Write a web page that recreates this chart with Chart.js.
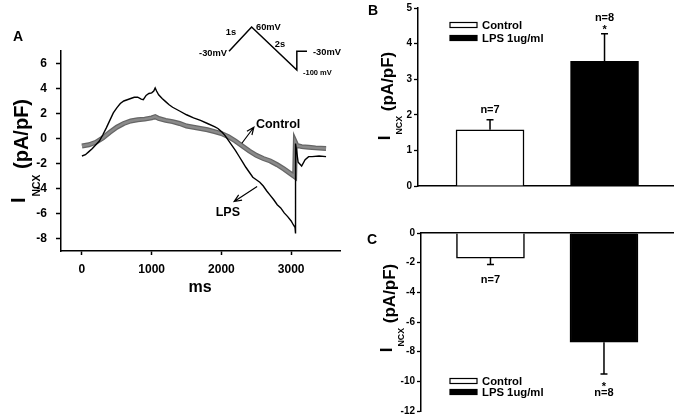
<!DOCTYPE html>
<html>
<head>
<meta charset="utf-8">
<script src="https://cdn.jsdelivr.net/npm/chart.js@4.4.0/dist/chart.umd.min.js"></script>
<style>
  html, body { margin: 0; padding: 0; background: #fff; overflow: hidden; }
  #wrap { position: relative; width: 675px; height: 419px; }
  canvas { position: absolute; left: 0; top: 0; }
</style>
</head>
<body>
<div id="wrap">
  <canvas id="chart-a" width="675" height="419"></canvas>
  <canvas id="chart-inset" width="675" height="419"></canvas>
  <canvas id="chart-b" width="675" height="419"></canvas>
  <canvas id="chart-c" width="675" height="419"></canvas>
</div>
<script>
// ---------- data ----------
// panel A: NCX current traces (ms, pA/pF)
const tCtl = [0, 100, 200, 300, 400, 500, 600, 700, 800, 900, 1000, 1050, 1100, 1200, 1300, 1400, 1500,
  1600, 1700, 1800, 1900, 2000, 2100, 2200, 2300, 2400, 2500, 2600, 2700, 2800, 2900, 3000, 3050,
  3060, 3080, 3150, 3250, 3350, 3500];
const vCtl = [-0.6, -0.5, -0.3, 0.05, 0.5, 0.9, 1.2, 1.4, 1.5, 1.55, 1.65, 1.75, 1.6, 1.45, 1.35, 1.2, 1.0,
  0.9, 0.8, 0.7, 0.55, 0.4, 0.15, -0.2, -0.6, -1.0, -1.35, -1.6, -1.8, -2.1, -2.45, -2.85, -3.05,
  -0.3, -0.55, -0.65, -0.7, -0.75, -0.8];
const tLps = [0, 50, 100, 150, 200, 250, 300, 350, 400, 450, 500, 550, 600, 650, 700, 750, 800, 850, 880, 920,
  960, 1000, 1030, 1050, 1070, 1100, 1150, 1200, 1250, 1300, 1400, 1500, 1600, 1700, 1800, 1900, 1950, 2000,
  2050, 2100, 2150, 2200, 2250, 2300, 2350, 2400, 2450, 2500, 2550, 2600, 2650, 2700, 2750, 2800, 2850,
  2900, 2950, 3000, 3030, 3055, 3060, 3065, 3100, 3150, 3200, 3250, 3300, 3400, 3500];
const vLps = [-1.4, -1.3, -1.05, -0.8, -0.5, -0.2, 0.3, 0.85, 1.45, 2.05, 2.45, 2.8, 3.0, 3.1, 3.2, 3.3, 3.3, 3.15, 3.1, 3.45,
  3.6, 3.65, 3.8, 4.05, 3.8, 3.5, 3.2, 2.95, 2.7, 2.5, 2.2, 1.9, 1.65, 1.45, 1.2, 0.95, 0.8, 0.55,
  0.25, -0.15, -0.55, -0.95, -1.4, -1.85, -2.3, -2.7, -3.1, -3.3, -3.5, -3.8, -4.2, -4.55, -4.9, -5.3, -5.55,
  -5.95, -6.25, -6.6, -6.9, -7.1, -7.6, -0.4, -1.9, -2.2, -1.7, -1.45, -1.45, -1.4, -1.45];
const xTicksA = [0, 1000, 2000, 3000];
const yTicksA = [-8, -6, -4, -2, 0, 2, 4, 6];

// voltage protocol inset (ms, mV)
const tProto = [0, 1000, 3000, 3000, 3450];
const vProto = [-30, 60, -100, -30, -30];

// panels B and C: mean and SEM
const groups = ["Control", "LPS 1ug/ml"];
const meanB = [1.58, 3.5];
const errB = [0.28, 0.78];
const meanC = [-1.69, -7.36];
const errC = [0.44, 2.15];
const nCells = [7, 8];
const stars = ["", "*"];
const yTicksB = [0, 1, 2, 3, 4, 5];
const yTicksC = [0, -2, -4, -6, -8, -10, -12];

// ---------- helpers ----------
const FAM = "'Liberation Sans', Arial, sans-serif";
const bold = (s) => `bold ${s}px ${FAM}`;
const pts = (xs, ys) => xs.map((x, i) => ({ x, y: ys[i] }));
const fixTicks = (arr) => (s) => { s.ticks = arr.map((value) => ({ value })); };
const plain = (v) => String(v);

function text(ctx, txt, x, yc, size, align = "center") {
  ctx.font = bold(size);
  ctx.textAlign = align;
  ctx.textBaseline = "alphabetic";
  ctx.fillStyle = "#000";
  ctx.fillText(txt, x, yc + (txt === "*" ? 0.6 : 0.36) * size);
}

// rotated "I_NCX (pA/pF)" title
function yTitle(ctx, xBase, yc, size, subDrop) {
  ctx.save();
  ctx.translate(xBase, yc);
  ctx.rotate(-Math.PI / 2);
  ctx.fillStyle = "#000";
  ctx.textAlign = "left";
  ctx.textBaseline = "alphabetic";
  const subSize = size * 0.52;
  ctx.font = bold(size); const wI = ctx.measureText("I").width;
  const wRest = ctx.measureText(" (pA/pF)").width;
  ctx.font = bold(subSize); const wSub = ctx.measureText("NCX").width;
  let x = -(wI + wSub + wRest + 1) / 2;
  ctx.font = bold(size); ctx.fillText("I", x, -3); x += wI + 1;
  ctx.font = bold(subSize); ctx.fillText("NCX", x, subDrop); x += wSub;
  ctx.font = bold(size); ctx.fillText(" (pA/pF)", x, 0);
  ctx.restore();
}

function arrow(ctx, x0, y0, x1, y1) {
  const a = Math.atan2(y1 - y0, x1 - x0);
  ctx.beginPath();
  ctx.moveTo(x0, y0); ctx.lineTo(x1, y1);
  ctx.moveTo(x1 - 8 * Math.cos(a - 0.4), y1 - 8 * Math.sin(a - 0.4));
  ctx.lineTo(x1, y1);
  ctx.lineTo(x1 - 8 * Math.cos(a + 0.4), y1 - 8 * Math.sin(a + 0.4));
  ctx.stroke();
}

const base = {
  responsive: false,
  animation: false,
  devicePixelRatio: 1,
  events: [],
};

// ---------- panel A ----------
const tracesDeco = {
  id: "tracesDeco",
  afterDraw(chart) {
    const { ctx, scales: { x, y } } = chart;
    ctx.save();
    ctx.strokeStyle = "#000";
    ctx.lineWidth = 1.2;
    arrow(ctx, x.getPixelForValue(2293), y.getPixelForValue(-0.38), x.getPixelForValue(2465), y.getPixelForValue(0.9));
    arrow(ctx, x.getPixelForValue(2512), y.getPixelForValue(-3.84), x.getPixelForValue(2183), y.getPixelForValue(-5.04));
    text(ctx, "Control", x.getPixelForValue(2494), y.getPixelForValue(1.22), 12.5, "left");
    text(ctx, "LPS", x.getPixelForValue(2092), y.getPixelForValue(-5.82), 12.5);
    text(ctx, "ms", 200, 286, 16);
    text(ctx, "A", 13, 36, 14, "left");
    yTitle(ctx, 28, 151, 20, 11.5);
    ctx.restore();
  },
};

new Chart(document.getElementById("chart-a"), {
  type: "line",
  data: {
    datasets: [
      { data: pts(tLps, vLps), borderColor: "#000", borderWidth: 1.4 },
      { data: pts(tCtl, vCtl), borderColor: "#8a8a8a", borderWidth: 2.5 },
      { data: pts(tCtl, vCtl), borderColor: "#666", borderWidth: 5 },
    ],
  },
  options: {
    ...base,
    layout: { padding: { left: 0, right: 335, top: 51, bottom: 0 } },
    elements: { point: { radius: 0 }, line: { tension: 0 } },
    plugins: { legend: { display: false }, tooltip: { enabled: false } },
    scales: {
      x: {
        type: "linear", min: -300, max: 3700,
        afterBuildTicks: fixTicks(xTicksA),
        afterFit: (s) => { s.height = 168; },
        grid: { drawOnChartArea: false, tickLength: 4, tickColor: "#000", tickWidth: 1.5 },
        border: { color: "#000", width: 1.5 },
        ticks: { color: "#000", font: { family: FAM, size: 12, weight: "bold" }, padding: 7, maxRotation: 0, callback: plain },
      },
      y: {
        min: -9, max: 7,
        afterBuildTicks: fixTicks(yTicksA),
        afterFit: (s) => { s.width = 61; },
        grid: { drawOnChartArea: false, tickLength: 5, tickColor: "#000", tickWidth: 1.5 },
        border: { color: "#000", width: 1.5 },
        ticks: { color: "#000", font: { family: FAM, size: 12, weight: "bold" }, padding: 9, callback: plain },
      },
    },
  },
  plugins: [tracesDeco],
});

// ---------- protocol inset ----------
const insetLabels = {
  id: "insetLabels",
  afterDraw(chart) {
    const { ctx } = chart;
    text(ctx, "-30mV", 227, 52.5, 9.3, "right");
    text(ctx, "1s", 231, 31.5, 9.3);
    text(ctx, "60mV", 256, 27, 9.3, "left");
    text(ctx, "2s", 280, 43.5, 9.3);
    text(ctx, "-30mV", 313, 52, 9.3, "left");
    text(ctx, "-100 mV", 303, 72, 7.5, "left");
  },
};

new Chart(document.getElementById("chart-inset"), {
  type: "line",
  data: { datasets: [{ data: pts(tProto, vProto), borderColor: "#000", borderWidth: 1.5, clip: false }] },
  options: {
    ...base,
    layout: { padding: { left: 229, right: 368, top: 27, bottom: 349 } },
    elements: { point: { radius: 0 }, line: { tension: 0 } },
    plugins: { legend: { display: false }, tooltip: { enabled: false } },
    scales: {
      x: { type: "linear", display: false, min: 0, max: 3450 },
      y: { display: false, min: -100, max: 60 },
    },
  },
  plugins: [insetLabels],
});

// ---------- panels B and C ----------
const barDeco = {
  id: "barDeco",
  afterDatasetsDraw(chart, args, o) {
    const { ctx, scales: { x, y } } = chart;
    ctx.save();
    ctx.strokeStyle = "#000";
    ctx.lineWidth = 1.5;
    o.mean.forEach((m, i) => {
      const px = x.getPixelForValue(i + 1);
      const y0 = y.getPixelForValue(m);
      const y1 = y.getPixelForValue(m + Math.sign(m) * o.err[i]);
      ctx.beginPath();
      ctx.moveTo(px, y0); ctx.lineTo(px, y1);
      ctx.moveTo(px - 3.5, y1); ctx.lineTo(px + 3.5, y1);
      ctx.stroke();
      const dir = m > 0 ? -1 : 1;
      if (stars[i]) {
        text(ctx, stars[i], px, y1 + dir * (m > 0 ? 7 : 9), 11);
        text(ctx, "n=" + nCells[i], px, y1 + dir * (m > 0 ? 17 : 18), 11);
      } else {
        text(ctx, "n=" + nCells[i], px, y1 + dir * (m > 0 ? 11 : 14), 11);
      }
    });
    // legend
    ctx.lineWidth = 1.2;
    groups.forEach((g, i) => {
      const yc = o.legendY[i];
      ctx.fillStyle = i === 0 ? "#fff" : "#000";
      ctx.fillRect(450, yc - 2.5, 27, 5);
      ctx.strokeRect(450, yc - 2.5, 27, 5);
      text(ctx, g, 482, yc, 11.3, "left");
    });
    text(ctx, o.letter, o.letterX, o.letterY, 14, "left");
    yTitle(ctx, o.titleX, o.titleY, 17, 9);
    ctx.restore();
  },
};

function barChart(id, mean, err, yMin, yMax, yTicks, xMin, xMax, pad, xPos, deco) {
  return new Chart(document.getElementById(id), {
    type: "bar",
    data: {
      datasets: [{
        data: pts(groups.map((g, i) => i + 1), mean),
        backgroundColor: ["#fff", "#000"],
        borderColor: "#000",
        borderWidth: 1.5,
        barThickness: 68,
      }],
    },
    options: {
      ...base,
      layout: { padding: pad },
      plugins: { legend: { display: false }, tooltip: { enabled: false }, barDeco: { mean, err, ...deco } },
      scales: {
        x: {
          type: "linear", position: xPos, min: xMin, max: xMax, offset: false,
          afterFit: (s) => { s.height = xPos === "top" ? 0 : 24; },
          grid: { display: false },
          border: { color: "#000", width: 1.5 },
          ticks: { display: false },
        },
        y: {
          min: yMin, max: yMax,
          afterBuildTicks: fixTicks(yTicks),
          afterFit: (s) => { s.width = 40; },
          grid: { drawOnChartArea: false, tickLength: 4, tickColor: "#000", tickWidth: 1.3 },
          border: { color: "#000", width: 1.5 },
          ticks: { color: "#000", font: { family: FAM, size: 10, weight: "bold" }, padding: 2, callback: plain },
        },
      },
    },
    plugins: [barDeco],
  });
}

barChart("chart-b", meanB, errB, 0, 5, yTicksB, 0.371, 2.598,
  { left: 378, right: 2, top: 6, bottom: 209 }, "bottom",
  { legendY: [25, 38], letter: "B", letterX: 368, letterY: 10, titleX: 393, titleY: 96 });

barChart("chart-c", meanC, errC, -12, 0, yTicksC, 0.388, 2.608,
  { left: 381, right: 2, top: 233, bottom: 6 }, "top",
  { legendY: [381, 392], letter: "C", letterX: 367, letterY: 239, titleX: 395, titleY: 308 });
</script>
</body>
</html>
